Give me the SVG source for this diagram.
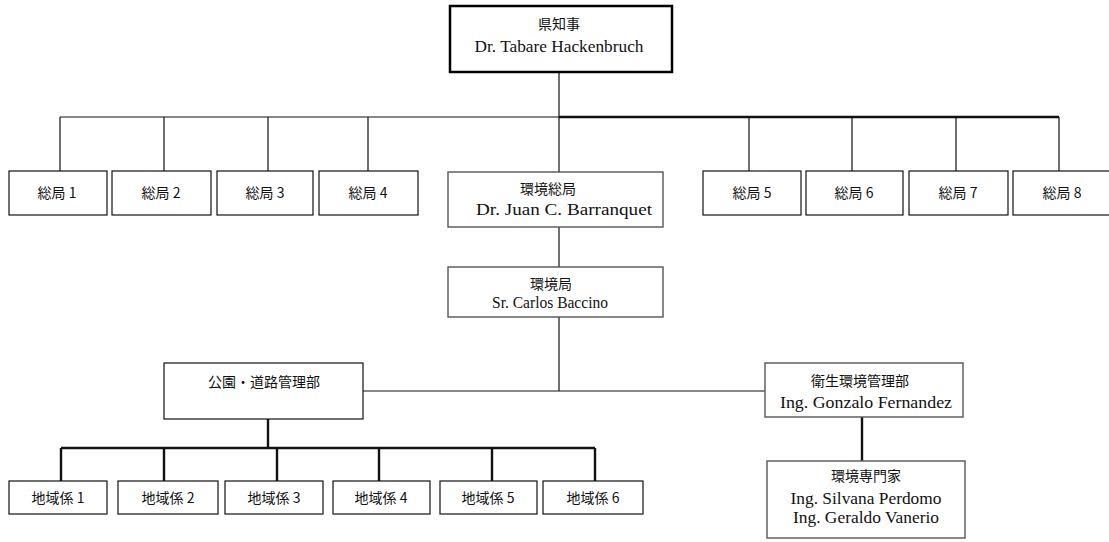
<svg xmlns="http://www.w3.org/2000/svg" width="1109" height="542" viewBox="0 0 1109 542">
<style>
.box{fill:#fff;stroke:#111;stroke-width:1.2}
.gbox{fill:#fff;stroke:#555;stroke-width:1.4}
.thick{fill:#fff;stroke:#000;stroke-width:2.5}
.jp{font-family:"Noto Sans CJK JP","Noto Sans CJK SC",sans-serif;font-size:14px;fill:#111;text-anchor:middle}
.lt{font-family:"Liberation Serif",serif;font-size:17px;fill:#111;text-anchor:middle}
.c1{fill:none;stroke:#111;stroke-width:1.2}
.c2{fill:none;stroke:#111;stroke-width:2.4}
</style>
<g id="connectors">
<path class="c1" d="M559,72 V172"/>
<path class="c1" d="M60,117 H559"/>
<path class="c2" d="M559,117 H1059"/>
<path class="c1" d="M60,117 V171 M164,117 V171 M268,117 V171 M368,117 V171"/>
<path class="c1" d="M749,117 V171 M852,117 V171 M956,117 V171 M1059,117 V171"/>
<path class="c1" d="M559,227 V267"/>
<path class="c1" d="M559,317 V391"/>
<path class="c1" d="M363,391 H765"/>
<path class="c2" d="M268,419 V448"/>
<path class="c2" d="M61,448 H595"/>
<path class="c2" d="M61,448 V481 M164,448 V481 M277,448 V481 M379,448 V481 M492,448 V481 M595,448 V481"/>
<path class="c2" d="M862,417 V461"/>
</g>
<g id="governor">
<rect class="thick" x="450" y="6" width="222" height="66"/>
<text class="jp" x="559" y="29">県知事</text>
<text class="lt" x="559" y="52" textLength="169" lengthAdjust="spacingAndGlyphs">Dr. Tabare Hackenbruch</text>
</g>
<g id="s1"><rect class="box" x="9" y="171" width="98" height="44"/><text class="jp" x="57" y="198">総局 1</text></g>
<g id="s2"><rect class="box" x="112" y="171" width="99" height="44"/><text class="jp" x="161" y="198">総局 2</text></g>
<g id="s3"><rect class="box" x="217" y="171" width="96" height="44"/><text class="jp" x="265" y="198">総局 3</text></g>
<g id="s4"><rect class="box" x="319" y="171" width="99" height="44"/><text class="jp" x="368" y="198">総局 4</text></g>
<g id="env-gen">
<rect class="gbox" x="448" y="172" width="215" height="55"/>
<text class="jp" x="548" y="194">環境総局</text>
<text class="lt" x="564" y="215" textLength="176" lengthAdjust="spacingAndGlyphs">Dr. Juan C. Barranquet</text>
</g>
<g id="s5"><rect class="box" x="703" y="171" width="98" height="44"/><text class="jp" x="752" y="198">総局 5</text></g>
<g id="s6"><rect class="box" x="806" y="171" width="97" height="44"/><text class="jp" x="854" y="198">総局 6</text></g>
<g id="s7"><rect class="box" x="909" y="171" width="99" height="44"/><text class="jp" x="958" y="198">総局 7</text></g>
<g id="s8"><rect class="box" x="1013" y="171" width="100" height="44"/><text class="jp" x="1062" y="198">総局 8</text></g>
<g id="env">
<rect class="gbox" x="448" y="267" width="215" height="50"/>
<text class="jp" x="551" y="289">環境局</text>
<text class="lt" x="550" y="308" textLength="116" lengthAdjust="spacingAndGlyphs">Sr. Carlos Baccino</text>
</g>
<g id="parks">
<rect class="box" x="164" y="363" width="199" height="56"/>
<text class="jp" x="264" y="387">公園・道路管理部</text>
</g>
<g id="sanit">
<rect class="gbox" x="765" y="363" width="198" height="54"/>
<text class="jp" x="860" y="386">衛生環境管理部</text>
<text class="lt" x="866" y="408" textLength="172" lengthAdjust="spacingAndGlyphs">Ing. Gonzalo Fernandez</text>
</g>
<g id="expert">
<rect class="gbox" x="767" y="461" width="198" height="77"/>
<text class="jp" x="866" y="481">環境専門家</text>
<text class="lt" x="866" y="504" textLength="151" lengthAdjust="spacingAndGlyphs">Ing. Silvana Perdomo</text>
<text class="lt" x="866" y="523" textLength="146" lengthAdjust="spacingAndGlyphs">Ing. Geraldo Vanerio</text>
</g>
<g id="r1"><rect class="box" x="9" y="481" width="98" height="33"/><text class="jp" x="58" y="503">地域係 1</text></g>
<g id="r2"><rect class="box" x="118" y="481" width="100" height="33"/><text class="jp" x="168" y="503">地域係 2</text></g>
<g id="r3"><rect class="box" x="225" y="481" width="98" height="33"/><text class="jp" x="274" y="503">地域係 3</text></g>
<g id="r4"><rect class="box" x="333" y="481" width="97" height="33"/><text class="jp" x="381" y="503">地域係 4</text></g>
<g id="r5"><rect class="box" x="440" y="481" width="97" height="33"/><text class="jp" x="488" y="503">地域係 5</text></g>
<g id="r6"><rect class="box" x="543" y="481" width="100" height="33"/><text class="jp" x="593" y="503">地域係 6</text></g>
</svg>
